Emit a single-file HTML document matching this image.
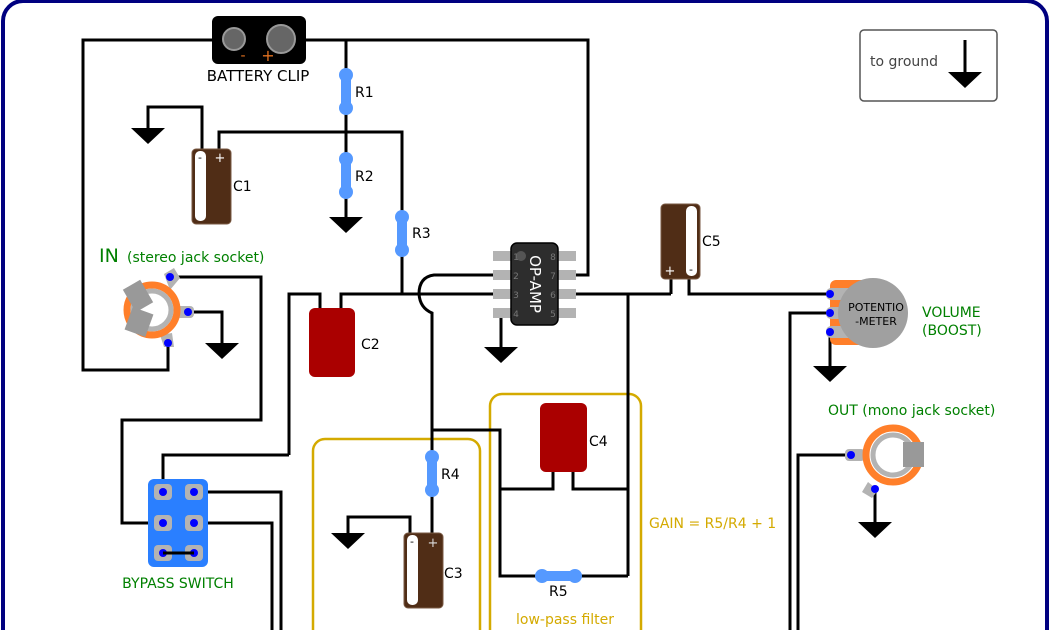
<!DOCTYPE html>
<html><head><meta charset="utf-8"><style>
html,body{margin:0;padding:0;background:#fff;width:1052px;height:630px;overflow:hidden;}
svg{display:block;font-family:"DejaVu Sans","Liberation Sans",sans-serif;}
</style></head><body>
<svg width="1052" height="630" viewBox="0 0 1052 630" xmlns="http://www.w3.org/2000/svg">
<defs>
<g id="gnd"><polygon points="-17,0 17,0 0,16" fill="#000"/></g>
</defs>
<rect x="3" y="1" width="1044" height="720" rx="20" fill="none" stroke="#000080" stroke-width="4"/>

<rect x="313" y="439" width="167" height="210" rx="12" fill="none" stroke="#d4aa00" stroke-width="2.5"/>
<rect x="490" y="394" width="151" height="255" rx="12" fill="none" stroke="#d4aa00" stroke-width="2.5"/>

<g fill="none" stroke="#000" stroke-width="3">
<polyline points="212,40 83,40 83,370 168,370 168,343"/>
<polyline points="306,40 588,40 588,275 575,275"/>
<line x1="346" y1="40" x2="346" y2="218"/>
<polyline points="219,150 219,132 402,132 402,294"/>
<polyline points="202,150 202,107 148,107 148,128"/>
<polyline points="289,455 289,294 320,294 320,308"/>
<polyline points="341,308 341,294 500,294"/>
<path d="M500,275 L434,275 Q419,277 419,294 Q420,308 432,313 L432,535"/>
<polyline points="289,455 163,455 163,490"/>
<polyline points="170,277 261,277 261,420 122,420 122,523 162,523"/>
<polyline points="188,312 222,312 222,343"/>
<polyline points="194,492 281,492 281,632"/>
<polyline points="194,523 272,523 272,632"/>
<line x1="163" y1="553" x2="194" y2="553"/>
<line x1="501" y1="313" x2="501" y2="348"/>
<line x1="576" y1="294" x2="671" y2="294"/>
<line x1="671" y1="294" x2="671" y2="278"/>
<polyline points="689,278 689,294 830,294"/>
<line x1="628" y1="294" x2="628" y2="576"/>
<polyline points="432,430 500,430 500,576 628,576"/>
<polyline points="500,489 553,489 553,472"/>
<polyline points="573,472 573,489 628,489"/>
<polyline points="410,535 410,517 348,517 348,533"/>
<polyline points="830,313 790,313 790,632"/>
<line x1="830" y1="332" x2="830" y2="367"/>
<polyline points="851,455 798,455 798,632"/>
<line x1="875" y1="489" x2="875" y2="523"/>
<line x1="965" y1="40" x2="965" y2="72"/>
</g>

<use href="#gnd" x="148" y="128"/>
<use href="#gnd" x="346" y="217"/>
<use href="#gnd" x="222" y="343"/>
<use href="#gnd" x="501" y="347"/>
<use href="#gnd" x="348" y="533"/>
<use href="#gnd" x="830" y="366"/>
<use href="#gnd" x="875" y="522"/>
<use href="#gnd" x="965" y="72"/>

<rect x="212" y="16" width="94" height="48" rx="6" fill="#000"/>
<circle cx="234" cy="39" r="11" fill="#666" stroke="#999" stroke-width="2"/>
<circle cx="281" cy="39" r="14" fill="#666" stroke="#999" stroke-width="2"/>
<text x="243" y="60" fill="#e07020" font-size="14" text-anchor="middle">-</text>
<text x="268" y="61" fill="#e07020" font-size="16" text-anchor="middle">+</text>
<text x="258" y="81" font-size="15" text-anchor="middle">BATTERY CLIP</text>

<g fill="#5599ff">
<rect x="341" y="74" width="10" height="35"/><circle cx="346" cy="75" r="7"/><circle cx="346" cy="108" r="7"/>
<rect x="341" y="158" width="10" height="35"/><circle cx="346" cy="159" r="7"/><circle cx="346" cy="192" r="7"/>
<rect x="397" y="216" width="10" height="35"/><circle cx="402" cy="217" r="7"/><circle cx="402" cy="250" r="7"/>
<rect x="427" y="456" width="10" height="35"/><circle cx="432" cy="457" r="7"/><circle cx="432" cy="490" r="7"/>
<rect x="541" y="571" width="35" height="10"/><circle cx="542" cy="576" r="7"/><circle cx="575" cy="576" r="7"/>
</g>
<g font-size="14">
<text x="355" y="97">R1</text><text x="355" y="181">R2</text><text x="412" y="238">R3</text>
<text x="441" y="479">R4</text><text x="549" y="596">R5</text>
</g>

<rect x="192" y="149" width="39" height="75" rx="4" fill="#502d16" stroke="#7a5a44"/>
<rect x="195" y="151" width="11" height="70" rx="5" fill="#fff"/>
<text x="200" y="161" font-size="11" fill="#000" text-anchor="middle">-</text>
<text x="220" y="162" font-size="13" fill="#fff" text-anchor="middle">+</text>
<text x="233" y="191" font-size="14">C1</text>
<rect x="404" y="533" width="39" height="75" rx="4" fill="#502d16" stroke="#7a5a44"/>
<rect x="407" y="535" width="11" height="70" rx="5" fill="#fff"/>
<text x="412" y="545" font-size="11" text-anchor="middle">-</text>
<text x="433" y="547" font-size="13" fill="#ddd" text-anchor="middle">+</text>
<text x="444" y="578" font-size="14">C3</text>
<rect x="661" y="204" width="39" height="75" rx="4" fill="#502d16" stroke="#7a5a44"/>
<rect x="686" y="206" width="11" height="70" rx="5" fill="#fff"/>
<text x="670" y="275" font-size="13" fill="#fff" text-anchor="middle">+</text>
<text x="691" y="273" font-size="11" text-anchor="middle">-</text>
<text x="702" y="246" font-size="14">C5</text>
<rect x="309" y="308" width="46" height="69" rx="6" fill="#aa0000"/>
<text x="361" y="349" font-size="14">C2</text>
<rect x="540" y="403" width="47" height="69" rx="6" fill="#aa0000"/>
<text x="589" y="446" font-size="14">C4</text>

<g fill="#b3b3b3">
<rect x="493" y="251" width="20" height="10"/><rect x="493" y="270" width="20" height="10"/>
<rect x="493" y="289" width="20" height="10"/><rect x="493" y="308" width="20" height="10"/>
<rect x="556" y="251" width="20" height="10"/><rect x="556" y="270" width="20" height="10"/>
<rect x="556" y="289" width="20" height="10"/><rect x="556" y="308" width="20" height="10"/>
</g>
<rect x="511" y="243" width="47" height="82" rx="6" fill="#2d2d2d" stroke="#000" stroke-width="1.5"/>
<circle cx="521" cy="256" r="5" fill="#555"/>
<g font-size="9" fill="#777" text-anchor="middle">
<text x="516" y="260">1</text><text x="516" y="279">2</text><text x="516" y="298">3</text><text x="516" y="317">4</text>
<text x="553" y="260">8</text><text x="553" y="279">7</text><text x="553" y="298">6</text><text x="553" y="317">5</text>
</g>
<text transform="translate(530,284) rotate(90)" font-size="15" fill="#fff" text-anchor="middle">OP-AMP</text>

<g fill="#b3b3b3">
<path d="M164,274 l10,-6 l6,10 l-10,12 z"/><rect x="176" y="306" width="18" height="12" rx="4"/>
<path d="M160,335 l12,-2 l2,14 l-10,0 z"/>
</g>
<circle cx="152" cy="310" r="25" fill="none" stroke="#ff7f2a" stroke-width="7"/>
<circle cx="152" cy="310" r="19" fill="none" stroke="#b3b3b3" stroke-width="5"/>
<rect x="128" y="283" width="20" height="26" fill="#999" transform="rotate(-30 138 296)"/>
<rect x="128" y="310" width="22" height="24" fill="#999" transform="rotate(20 139 322)"/>
<text x="99" y="262" font-size="19" fill="#008000">IN</text>
<text x="127" y="262" font-size="14" fill="#008000">(stereo jack socket)</text>

<rect x="148" y="479" width="60" height="88" rx="6" fill="#2a7fff"/>
<g fill="#b3b3b3">
<rect x="154" y="484" width="18" height="16" rx="4"/><rect x="185" y="484" width="18" height="16" rx="4"/>
<rect x="154" y="515" width="18" height="16" rx="4"/><rect x="185" y="515" width="18" height="16" rx="4"/>
<rect x="154" y="545" width="18" height="16" rx="4"/><rect x="185" y="545" width="18" height="16" rx="4"/>
</g>
<g fill="#0000ff">
<circle cx="163" cy="492" r="4"/><circle cx="194" cy="492" r="4"/><circle cx="163" cy="523" r="4"/>
<circle cx="194" cy="523" r="4"/><circle cx="163" cy="553" r="4"/><circle cx="194" cy="553" r="4"/>
<circle cx="170" cy="277" r="4"/><circle cx="188" cy="312" r="4"/><circle cx="168" cy="343" r="4"/>
</g>
<line x1="163" y1="553" x2="194" y2="553" stroke="#000" stroke-width="3"/>
<text x="178" y="588" font-size="14" fill="#008000" text-anchor="middle">BYPASS SWITCH</text>

<rect x="830" y="280" width="42" height="65" rx="6" fill="#ff7f2a"/>
<g fill="#b3b3b3"><rect x="826" y="288" width="40" height="12" rx="5"/><rect x="826" y="307" width="40" height="12" rx="5"/><rect x="826" y="326" width="40" height="12" rx="5"/></g>
<circle cx="873" cy="313" r="35" fill="#a0a0a0"/>
<g fill="#0000ff"><circle cx="830" cy="294" r="4"/><circle cx="830" cy="313" r="4"/><circle cx="830" cy="332" r="4"/></g>
<text x="876" y="311" font-size="11" text-anchor="middle">POTENTIO</text>
<text x="876" y="325" font-size="11" text-anchor="middle">-METER</text>
<text x="922" y="317" font-size="14" fill="#008000">VOLUME</text>
<text x="922" y="335" font-size="14" fill="#008000">(BOOST)</text>

<rect x="845" y="449" width="20" height="12" rx="4" fill="#b3b3b3"/>
<path d="M868,482 l10,8 l-6,8 l-10,-6 z" fill="#b3b3b3"/>
<circle cx="893" cy="455" r="27" fill="none" stroke="#ff7f2a" stroke-width="7"/>
<circle cx="893" cy="455" r="20" fill="none" stroke="#b3b3b3" stroke-width="5"/>
<rect x="903" y="442" width="21" height="25" fill="#999"/>
<circle cx="851" cy="455" r="4" fill="#0000ff"/><circle cx="875" cy="489" r="4" fill="#0000ff"/>
<text x="828" y="415" font-size="14" fill="#008000">OUT (mono jack socket)</text>

<text x="649" y="528" font-size="14" fill="#d4aa00">GAIN = R5/R4 + 1</text>
<text x="565" y="624" font-size="14" fill="#d4aa00" text-anchor="middle">low-pass filter</text>

<rect x="860" y="30" width="137" height="71" rx="4" fill="none" stroke="#555" stroke-width="1.5"/>
<text x="870" y="66" font-size="14" fill="#444">to ground</text>
</svg>
</body></html>
